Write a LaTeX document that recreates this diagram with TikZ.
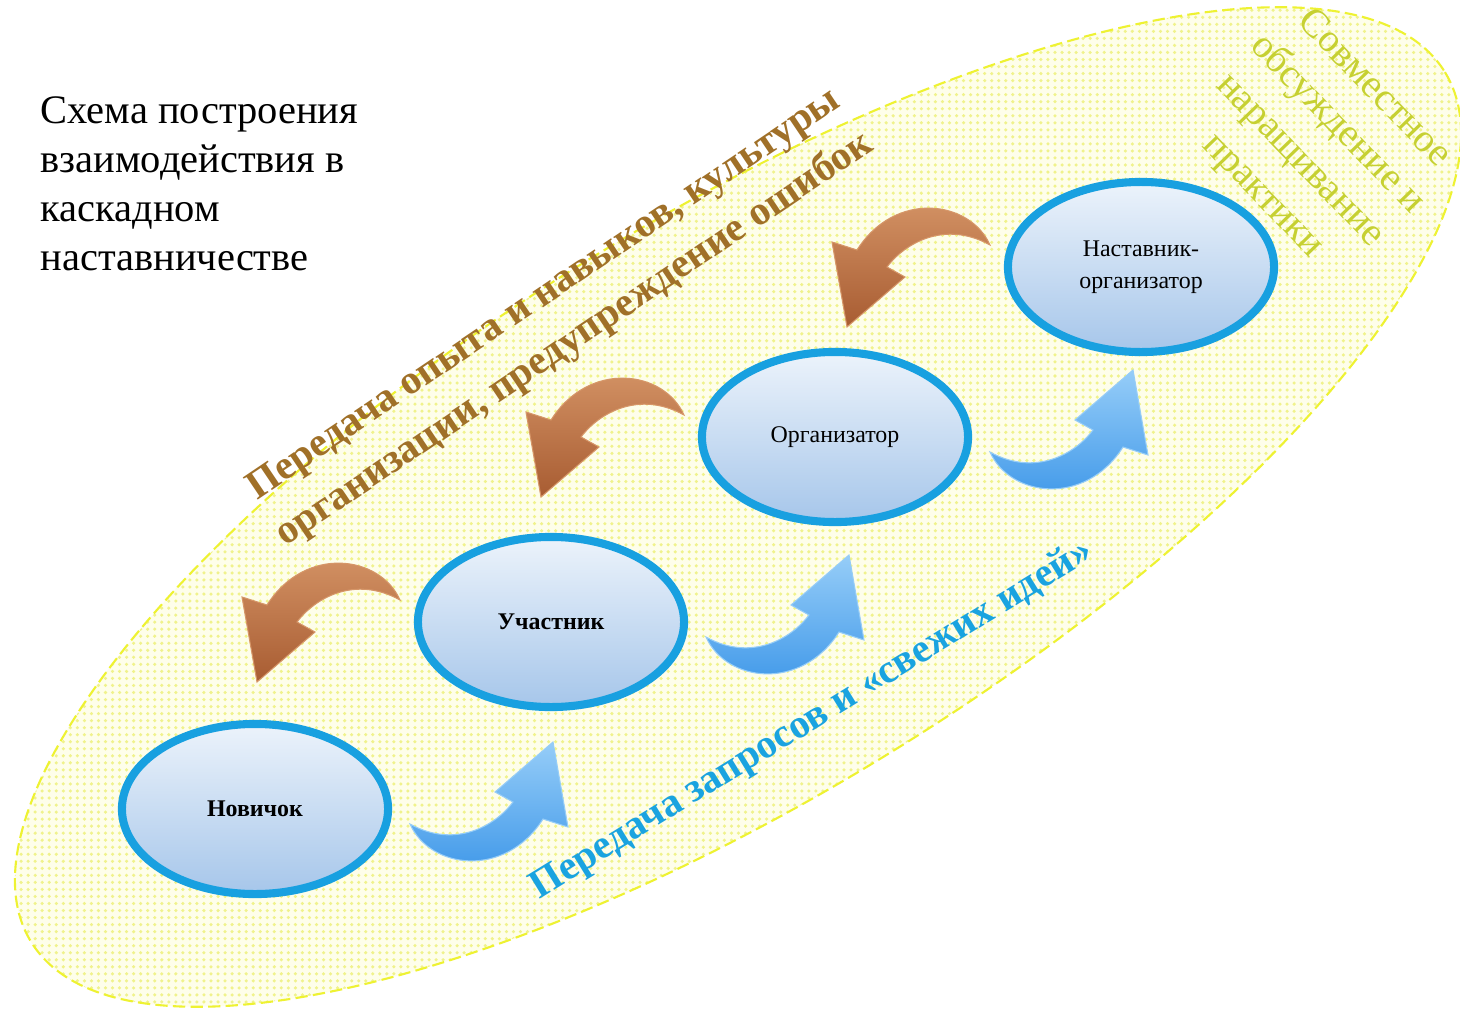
\documentclass[tikz,border=0pt]{standalone}
\usepackage{fontspec}
\setmainfont{Liberation Serif}
\usetikzlibrary{shapes.geometric,patterns.meta}

\definecolor{zoneline}{RGB}{238,242,50}
\definecolor{zonefill}{RGB}{254,254,234}
\definecolor{zonedots}{RGB}{240,242,140}
\definecolor{ringblue}{RGB}{24,160,224}
\definecolor{ringtop}{RGB}{236,243,251}
\definecolor{ringbottom}{RGB}{166,198,234}
\definecolor{expbrown}{RGB}{160,112,40}
\definecolor{askblue}{RGB}{26,163,224}
\definecolor{jointgreen}{RGB}{198,208,50}
\definecolor{flowtop}{RGB}{150,205,248}
\definecolor{flowbottom}{RGB}{60,150,232}
\definecolor{backdark}{RGB}{168,92,50}
\definecolor{backlight}{RGB}{214,150,104}

\tikzset{
  role/.style={ellipse, draw=ringblue, line width=2.3pt, top color=ringtop,
    bottom color=ringbottom, minimum width=2.66cm, minimum height=1.70cm,
    font=\fontsize{6.8}{9}\selectfont, align=center, inner sep=0pt},
  strong/.style={font=\fontsize{6.8}{9}\selectfont\bfseries},
  zone/.style={draw=zoneline, line width=0.6pt, dash pattern=on 3.5pt off 1.5pt,
    preaction={fill=zonefill}, pattern={Dots[distance=2pt,radius=0.5pt]},
    pattern color=zonedots},
  upflow/.style={top color=flowtop, bottom color=flowbottom, draw=flowtop, line width=0.3pt},
  backflow/.style={top color=backlight, bottom color=backdark, draw=backlight, line width=0.3pt},
  pics/flow/.style={code={
    \path[#1] (0,0) .. controls (20,45) and (95,55) .. (133,-5) -- (158,3) -- (143,-82)
      -- (85,-32) -- (103,-22) .. controls (85,2) and (45,25) .. (0,0) -- cycle;
  }}
}

\begin{document}
\begin{tikzpicture}[x=0.01cm, y=-0.01cm]
    \fill[white] (0,0) rectangle (1460,1009);
    \useasboundingbox (0,0) rectangle (1460,1009);

    \path[zone, rotate around={31.6:(738,507)}] (738,507) ellipse [x radius=830, y radius=289];

    \node[anchor=north west, align=left, inner sep=0pt, font=\fontsize{11.5}{13.9}\selectfont] (title) at (40,96)
        {Схема построения\\взаимодействия в\\каскадном\\наставничестве};

    \node[role, strong] (nov) at (255,809) {Новичок};
    \node[role, strong] (uch) at (551,622) {Участник};
    \node[role] (org) at (835,437) {Организатор};
    \node[role] (mentor) at (1141,267) {Наставник-\\организатор};

    \pic at ([shift={(155,15)}]nov.center) {flow=upflow};
    \pic at ([shift={(155,15)}]uch.center) {flow=upflow};
    \pic at ([shift={(155,15)}]org.center) {flow=upflow};
    \pic[rotate=180] at ([shift={(-151,-22)}]uch.center) {flow=backflow};
    \pic[rotate=180] at ([shift={(-151,-22)}]org.center) {flow=backflow};
    \pic[rotate=180] at ([shift={(-151,-22)}]mentor.center) {flow=backflow};

    \node[rotate=34, align=center, text=expbrown, font=\bfseries\fontsize{11.6}{15.5}\selectfont] (exp) at (560,318)
        {Передача опыта и навыков, культуры\\организации, предупреждение ошибок};
    \node[rotate=31.6, text=askblue, font=\bfseries\fontsize{11.5}{14}\selectfont] (ask) at (812,720)
        {Передача запросов и «свежих идей»};
    \node[rotate=-46, align=center, text=jointgreen, font=\fontsize{11.3}{14.6}\selectfont] (joint) at (1318,143)
        {Совместное\\обсуждение и\\наращивание\\практики};
\end{tikzpicture}
\end{document}
